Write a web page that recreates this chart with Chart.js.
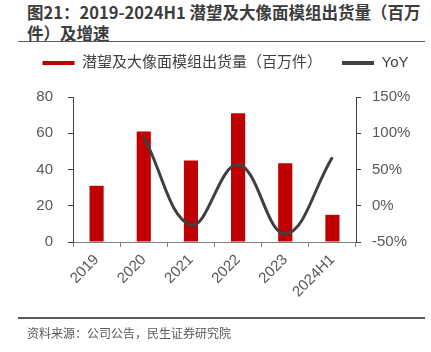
<!DOCTYPE html>
<html>
<head>
<meta charset="utf-8">
<script src="https://cdn.jsdelivr.net/npm/chart.js@4/dist/chart.umd.min.js"></script>
<style>
  html, body { margin: 0; padding: 0; background: #fff; }
  body { width: 431px; height: 352px; position: relative; overflow: hidden; }
  #title { position: absolute; left: 27px; top: 2px; width: 400px; font-family: 'Noto Sans CJK SC', sans-serif; font-weight: bold; font-size: 16.5px; line-height: 21px; color: #3c3c3c; }
  .rule { position: absolute; left: 18px; width: 407px; height: 1.5px; background: #595959; }
  #source { position: absolute; left: 27px; top: 324px; font-family: 'Noto Sans CJK SC', sans-serif; font-size: 12px; color: #595959; white-space: nowrap; }
  #wrap { position: absolute; left: 0; top: 0; width: 431px; height: 352px; }
</style>
</head>
<body>
<div id="title">图21：2019-2024H1 潜望及大像面模组出货量（百万<br>件）及增速</div>
<div class="rule" style="top:40.5px"></div>
<div id="wrap"><canvas id="c" width="431" height="352"></canvas></div>
<div class="rule" style="top:317px"></div>
<div id="source">资料来源：公司公告，民生证券研究院</div>
<script>
const categories = ['2019', '2020', '2021', '2022', '2023', '2024H1'];
const shipments = [31, 61, 45, 71, 43.5, 15];
const yoyPct = [null, 95, -26.5, 57, -39, 67];
const seriesNames = ['潜望及大像面模组出货量（百万件）', 'YoY'];
const leftRange = [0, 80, 20];
const rightRange = [-50, 150, 50];

const FONT = "'Liberation Sans', 'Noto Sans CJK SC', sans-serif";
const TICK = '#595959';

new Chart(document.getElementById('c'), {
  data: {
    labels: categories,
    datasets: [
      {
        type: 'bar',
        label: seriesNames[0],
        data: shipments,
        backgroundColor: '#C00000',
        borderWidth: 0,
        categoryPercentage: 1,
        barPercentage: 0.3,
        yAxisID: 'y',
        order: 2
      },
      {
        type: 'line',
        label: seriesNames[1],
        data: yoyPct,
        borderColor: '#404040',
        backgroundColor: '#404040',
        borderWidth: 3,
        pointRadius: 0,
        tension: 0.4,
        yAxisID: 'y1',
        order: 1
      }
    ]
  },
  options: {
    responsive: false,
    animation: false,
    devicePixelRatio: 1,
    layout: { padding: { left: 20, right: 0, top: 35.5, bottom: 0 } },
    plugins: {
      tooltip: { enabled: false },
      title: { display: false },
      subtitle: {
        display: true, text: '', weight: 500, position: 'top',
        font: { size: 1, lineHeight: 1 },
        padding: { top: 0, bottom: 15.5 }
      },
      legend: {
        position: 'top',
        labels: {
          font: { family: FONT, size: 15 },
          color: '#404040',
          boxWidth: 32,
          boxHeight: 4,
          padding: 20,
          sort: (a, b) => a.datasetIndex - b.datasetIndex,
          generateLabels: (chart) => {
            const items = Chart.defaults.plugins.legend.labels.generateLabels(chart);
            items.forEach(it => { it.lineWidth = 0; });
            return items;
          }
        }
      }
    },
    scales: {
      x: {
        type: 'category',
        offset: true,
        grid: { display: true, drawOnChartArea: false, offset: true, tickLength: 5, color: '#808080', lineWidth: 1 },
        border: { display: true, color: '#808080', width: 1 },
        ticks: { font: { family: FONT, size: 15 }, color: TICK, minRotation: 45, maxRotation: 45, padding: 4 },
        afterFit: (s) => { s.height = 110; }
      },
      y: {
        position: 'left',
        min: leftRange[0], max: leftRange[1],
        ticks: { stepSize: leftRange[2], font: { family: FONT, size: 15 }, color: TICK, padding: 15 },
        grid: { display: true, drawOnChartArea: false, tickLength: 5, color: '#404040' },
        border: { display: true, color: '#404040', width: 1 },
        afterFit: (s) => { s.width = 53; }
      },
      y1: {
        position: 'right',
        min: rightRange[0], max: rightRange[1],
        ticks: { stepSize: rightRange[2], font: { family: FONT, size: 15 }, color: TICK, padding: 11, callback: (v) => v + '%' },
        grid: { display: true, drawOnChartArea: false, tickLength: 5, color: '#404040' },
        border: { display: true, color: '#404040', width: 1 },
        afterFit: (s) => { s.width = 75; }
      }
    }
  }
});
</script>
</body>
</html>
